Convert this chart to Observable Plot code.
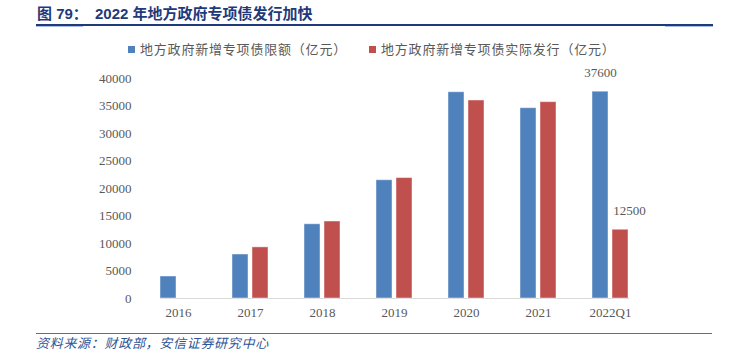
<!DOCTYPE html>
<html>
<head>
<meta charset="utf-8">
<script src="https://cdn.jsdelivr.net/npm/d3@7"></script>
<script src="https://cdn.jsdelivr.net/npm/@observablehq/plot@0.6"></script>
<style>
  html, body { margin: 0; padding: 0; background: #fff; }
  #wrap { position: relative; width: 729px; height: 359px; overflow: hidden; background: #fff; }
  .abs { position: absolute; }
  #title { left: 37px; top: 6px; font-family: "Liberation Sans", "Noto Sans CJK SC", sans-serif; font-weight: bold; font-size: 15px; line-height: 15px; color: #1F3A7A; white-space: nowrap; }
  #title .num { position: absolute; left: 58px; top: 0; }
  #legend { left: 128px; top: 42px; font-family: "Noto Sans CJK SC", sans-serif; font-size: 13px; line-height: 14px; color: #595959; white-space: nowrap; letter-spacing: 0.8px; }
  .item { position: absolute; top: 0; }
  .sw { position: absolute; top: 3.7px; width: 7px; height: 7px; }
  .lab { position: absolute; left: 12px; top: 0; }
  #caption { left: 36px; top: 336px; font-family: "Noto Sans CJK SC", sans-serif; font-style: italic; font-size: 13px; line-height: 14px; color: #2F5597; letter-spacing: 0.7px; white-space: nowrap; }
  #chart { left: 0; top: 60px; }
</style>
</head>
<body>
<div id="wrap">
  <div id="title" class="abs"><span id="t1"></span><span class="num" id="t2"></span></div>
  <div class="abs" style="left:36px;top:24px;width:677px;height:1.5px;background:#1F3A7A;"></div>
  <div class="abs" style="left:36px;top:25.5px;width:47px;height:1.5px;background:#A9BDE6;"></div>
  <div class="abs" style="left:665px;top:25.5px;width:48px;height:1.5px;background:#A9BDE6;"></div>
  <div id="legend" class="abs"></div>
  <div id="chart" class="abs"></div>
  <div class="abs" style="left:36px;top:332.5px;width:676px;height:1.4px;background:#4472C4;"></div>
  <div id="caption" class="abs"></div>
</div>
<script>
const titlePrefix = "图 79：";
const titleText = "2022 年地方政府专项债发行加快";
const captionText = "资料来源：财政部，安信证券研究中心";

const years = ["2016", "2017", "2018", "2019", "2020", "2021", "2022Q1"];
const series = ["地方政府新增专项债限额（亿元）", "地方政府新增专项债实际发行（亿元）"];
const colors = ["#4F81BD", "#C0504D"];
const quota = [4000, 8000, 13500, 21500, 37500, 34600, 37600];
const issued = [null, 9300, 14000, 21900, 36000, 35700, 12500];
const yTicks = [0, 5000, 10000, 15000, 20000, 25000, 30000, 35000, 40000];
const labelYear = "2022Q1";
const labelValues = [37600, 12500];

document.getElementById("t1").textContent = titlePrefix;
document.getElementById("t2").textContent = titleText;
document.getElementById("caption").textContent = captionText;

const legend = document.getElementById("legend");
const legendOffsets = [0, 241];
series.forEach((s, i) => {
  const it = document.createElement("div");
  it.className = "item";
  it.style.left = legendOffsets[i] + "px";
  const sw = document.createElement("div");
  sw.className = "sw";
  sw.style.background = colors[i];
  const lb = document.createElement("div");
  lb.className = "lab";
  lb.textContent = s;
  it.appendChild(sw); it.appendChild(lb);
  legend.appendChild(it);
});

const data = [];
years.forEach((y, i) => {
  if (quota[i] != null) data.push({year: y, series: series[0], value: quota[i]});
  if (issued[i] != null) data.push({year: y, series: series[1], value: issued[i]});
});
const labels = labelValues.map((v, i) => ({year: labelYear, series: series[i], value: v}));

const chart = Plot.plot({
  width: 729,
  height: 270,
  marginLeft: 139,
  marginRight: 81,
  marginTop: 18,
  marginBottom: 32,
  style: {fontFamily: "'Liberation Serif', 'Times New Roman', serif", fontSize: "13px", color: "#595959", background: "transparent", overflow: "visible"},
  fx: {domain: years, paddingInner: 0.5, paddingOuter: 0.25, label: null, tickSize: 0, tickPadding: 9},
  x: {domain: series, paddingInner: 0.22, paddingOuter: 0, axis: null},
  y: {domain: [0, 40000], ticks: yTicks, tickSize: 0, tickPadding: 29, tickFormat: d3.format("d"), label: null},
  color: {domain: series, range: colors},
  marks: [
    Plot.frame({anchor: "bottom", facet: "super", stroke: "#D9D9D9", strokeWidth: 1.2}),
    Plot.barY(data, {fx: "year", x: "series", y: "value", fill: "series", stroke: "#ffffff", strokeOpacity: 0.45, strokeWidth: 1}),
    Plot.text(labels.slice(0, 1), {fx: "year", x: "series", y: "value", text: d => String(d.value), dy: -19, fill: "#595959", fontSize: 13}),
    Plot.text(labels.slice(1), {fx: "year", x: "series", y: "value", text: d => String(d.value), dy: -19, dx: 9, fill: "#595959", fontSize: 13})
  ]
});
document.getElementById("chart").appendChild(chart);
</script>
</body>
</html>
